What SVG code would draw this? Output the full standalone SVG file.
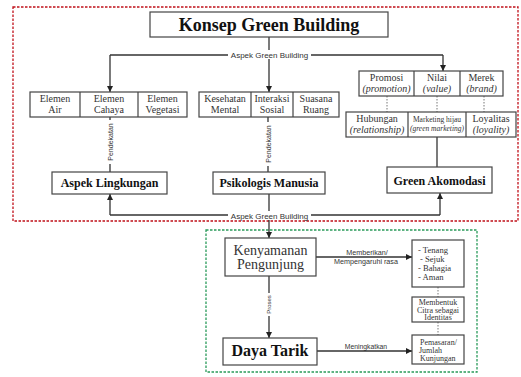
<svg xmlns="http://www.w3.org/2000/svg" width="521" height="377" viewBox="0 0 521 377">
<defs>
<marker id="arr" viewBox="0 0 10 10" refX="10" refY="5" markerWidth="6" markerHeight="6" markerUnits="userSpaceOnUse" orient="auto"><path d="M0,0 L10,5 L0,10 z" fill="#222"/></marker>
<style>
.box{fill:#fff;stroke:#444;stroke-width:1.2}
.ln{fill:none;stroke:#333;stroke-width:1.3}
.dot{fill:none;stroke:#777;stroke-width:1;stroke-dasharray:1.5 1.5}
.bg{fill:#fff;stroke:none}
.s{font-family:"Liberation Serif","Times New Roman",serif;fill:#333;text-anchor:middle;font-size:10px}
.i{font-style:italic}
.b{font-weight:bold;fill:#111}
.sa{font-family:"Liberation Sans",Arial,sans-serif;fill:#333;text-anchor:middle}
.sm{font-size:8.6px}
.xs{font-size:8px}
.lft{text-anchor:start}
</style>
</defs>
<rect x="13" y="7" width="505" height="214" fill="none" stroke="#c0101a" stroke-width="1.3" stroke-dasharray="2.5 1.5"/>
<rect x="206" y="230" width="271" height="142" fill="none" stroke="#2a9a5a" stroke-width="1.3" stroke-dasharray="2.5 1.5"/>

<g id="connectors">
<path class="ln" d="M269,37 V55"/>
<path class="ln" d="M110,55 H443"/>
<path class="ln" d="M110,55 V92" marker-end="url(#arr)"/>
<path class="ln" d="M269,55 V92" marker-end="url(#arr)"/>
<path class="ln" d="M443,55 V71" marker-end="url(#arr)"/>
<rect class="bg" x="228" y="50" width="83" height="9"/>
<text class="sa" x="269.5" y="57.5" font-size="8">Aspek Green Building</text>

<path class="ln" d="M110,117 V172"/>
<rect class="bg" x="106" y="120" width="8" height="44"/>
<text class="sa" font-size="7" fill="#555" transform="translate(112.5,142) rotate(-90)">Pendekatan</text>
<path class="ln" d="M268,117 V172"/>
<rect class="bg" x="264" y="122" width="8" height="44"/>
<text class="sa" font-size="7" fill="#555" transform="translate(270.5,144) rotate(-90)">Pendekatan</text>

<path class="dot" d="M387,96 V112"/>
<path class="dot" d="M437,96 V112"/>
<path class="dot" d="M484,96 V112"/>
<path class="ln" d="M437,137 V167"/>

<path class="ln" d="M110,215 H440"/>
<path class="ln" d="M110,215 V194" marker-end="url(#arr)"/>
<path class="ln" d="M440,215 V193" marker-end="url(#arr)"/>
<path class="ln" d="M269,194 V238" marker-end="url(#arr)"/>
<rect class="bg" x="228" y="211" width="83" height="9"/>
<text class="sa" x="269.5" y="218.5" font-size="8">Aspek Green Building</text>

<path class="ln" d="M269,276 V338" marker-end="url(#arr)"/>
<rect class="bg" x="265" y="293" width="8" height="23"/>
<text class="sa" font-size="6" transform="translate(271,304.5) rotate(-90)">Proses</text>
<path class="ln" d="M316,257 H412" marker-end="url(#arr)"/>
<text class="sa" x="367" y="255" font-size="7.2">Memberikan/</text>
<text class="sa" x="366" y="263.5" font-size="7.2">Mempengaruhi rasa</text>
<path class="ln" d="M317,351 H412" marker-end="url(#arr)"/>
<text class="sa" x="366" y="349.2" font-size="6.8">Meningkatkan</text>
<path class="dot" d="M438,287 V297"/>
<path class="dot" d="M438,322 V335"/>
</g>

<g id="title">
<rect class="box" x="150" y="12" width="238" height="25"/>
<text class="s b" x="269" y="31" style="font-size:18px">Konsep Green Building</text>
</g>

<g id="lingkungan-elements">
<rect class="box" x="30" y="92" width="157" height="25"/>
<path class="box" d="M80,92 V117 M138,92 V117"/>
<text class="s" x="55" y="102">Elemen</text><text class="s" x="55" y="113">Air</text>
<text class="s" x="109" y="102">Elemen</text><text class="s" x="109" y="113">Cahaya</text>
<text class="s" x="162.5" y="102">Elemen</text><text class="s" x="162.5" y="113">Vegetasi</text>
</g>

<g id="psikologis-elements">
<rect class="box" x="199" y="92" width="140" height="25"/>
<path class="box" d="M251,92 V117 M293,92 V117"/>
<text class="s" x="225" y="102">Kesehatan</text><text class="s" x="225" y="113">Mental</text>
<text class="s" x="272" y="102">Interaksi</text><text class="s" x="272" y="113">Sosial</text>
<text class="s" x="316" y="102">Suasana</text><text class="s" x="316" y="113">Ruang</text>
</g>

<g id="marketing-top">
<rect class="box" x="359" y="71" width="144" height="25"/>
<path class="box" d="M414,71 V96 M460,71 V96"/>
<text class="s" x="386.5" y="81">Promosi</text><text class="s i" x="386.5" y="92">(promotion)</text>
<text class="s" x="437" y="81">Nilai</text><text class="s i" x="437" y="92">(value)</text>
<text class="s" x="481.5" y="81">Merek</text><text class="s i" x="481.5" y="92">(brand)</text>
</g>

<g id="marketing-bottom">
<rect class="box" x="346" y="112" width="170" height="25"/>
<path class="box" d="M408,112 V137 M466,112 V137"/>
<text class="s" x="377" y="122">Hubungan</text><text class="s i" x="377" y="132.5">(relationship)</text>
<text class="s" x="437" y="122" style="font-size:7.5px">Marketing hijau</text><text class="s i" x="437" y="131" style="font-size:7.5px">(green marketing)</text>
<text class="s" x="491" y="122">Loyalitas</text><text class="s i" x="491" y="132.5">(loyality)</text>
</g>

<g id="aspek-lingkungan">
<rect class="box" x="52" y="172" width="115" height="22"/>
<text class="s b" x="109.5" y="187" style="font-size:12px">Aspek Lingkungan</text>
</g>

<g id="psikologis-manusia">
<rect class="box" x="213" y="172" width="112" height="22"/>
<text class="s b" x="269" y="187" style="font-size:12px">Psikologis Manusia</text>
</g>

<g id="green-akomodasi">
<rect class="box" x="387" y="167" width="105" height="26"/>
<text class="s b" x="439.5" y="184.5" style="font-size:12px">Green Akomodasi</text>
</g>

<g id="kenyamanan">
<rect class="box" x="225" y="238" width="91" height="38"/>
<text class="s" x="270.5" y="254.5" style="font-size:14px">Kenyamanan</text>
<text class="s" x="270.5" y="268.5" style="font-size:14px">Pengunjung</text>
</g>

<g id="daya-tarik">
<rect class="box" x="223" y="338" width="94" height="27"/>
<text class="s b" x="270" y="355.5" style="font-size:16px">Daya Tarik</text>
</g>

<g id="rasa">
<rect class="box" x="412" y="240" width="52" height="47"/>
<text class="s sm lft" x="418" y="252.5">- Tenang</text>
<text class="s sm lft" x="420" y="261.5">- Sejuk</text>
<text class="s sm lft" x="418" y="270.5">- Bahagia</text>
<text class="s sm lft" x="418" y="279.5">- Aman</text>
</g>

<g id="citra">
<rect class="box" x="412" y="297" width="52" height="25"/>
<text class="s xs" x="438" y="304.5">Membentuk</text>
<text class="s xs" x="438" y="312.5">Citra sebagai</text>
<text class="s xs" x="438" y="320.3">Identitas</text>
</g>

<g id="pemasaran">
<rect class="box" x="412" y="335" width="52" height="29"/>
<text class="s xs lft" x="420" y="344.5">Pemasaran/</text>
<text class="s xs lft" x="419" y="352.8">Jumlah</text>
<text class="s xs lft" x="420" y="361">Kunjungan</text>
</g>
</svg>
